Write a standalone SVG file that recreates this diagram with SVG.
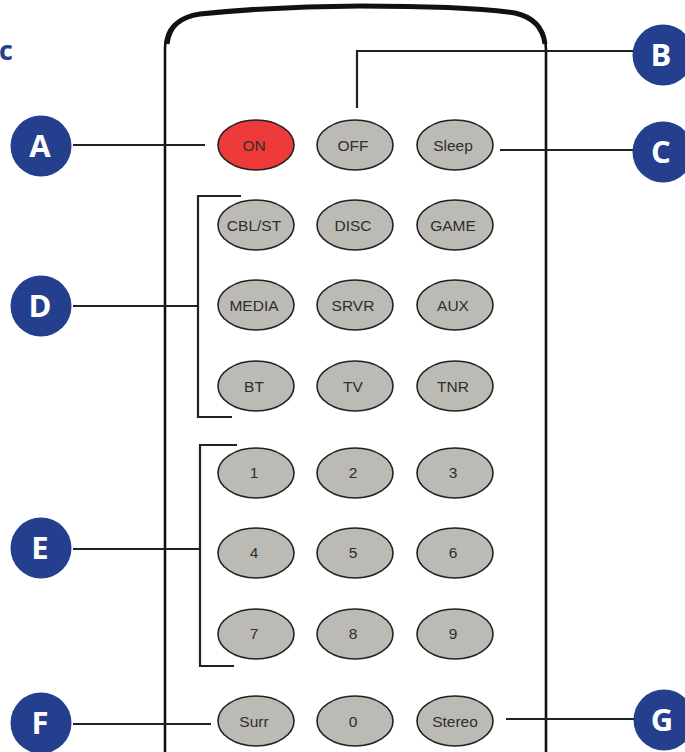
<svg xmlns="http://www.w3.org/2000/svg" width="685" height="752" viewBox="0 0 685 752">
<style>
.btn{fill:#bcbab5;stroke:#222;stroke-width:1.6}
.on{fill:#ef3a3a;stroke:#222;stroke-width:1.6}
.bt{font-family:"Liberation Sans",Arial,sans-serif;font-size:15.5px;fill:#2e2e2e;text-anchor:middle}
.callout{fill:#243f8e}
.cl{font-family:"Open Sans","Noto Sans",sans-serif;font-weight:bold;font-size:31px;fill:#fff;text-anchor:middle}
.ln{stroke:#222;stroke-width:2.2;fill:none}
</style>
<rect width="685" height="752" fill="#fff"/>
<text x="-1" y="60" font-family="'Open Sans','Noto Sans',sans-serif" font-weight="bold" font-size="27" fill="#243f8e">c</text>
<g id="remote">
<path d="M165,752 V48 C165,28 176,17 200,14 C260,8 310,6 360,6 C420,6 480,8 515,13 C535,17 546,30 546,50 V752" fill="none" stroke="#111" stroke-width="2.6"/>
<path d="M167,44 C169,26 180,17 200,14 C260,8 310,6 360,6 C420,6 480,8 515,13 C533,17 543,28 545,44" fill="none" stroke="#111" stroke-width="5"/>
</g>
<g id="connectors">
<path class="ln" d="M73,145 H205"/>
<path class="ln" d="M357,108 V51 H633"/>
<path class="ln" d="M500,150 H633"/>
<path class="ln" d="M73,306 H198 M241,196 H198 V417 H232"/>
<path class="ln" d="M73,549 H200 M237,445 H200 V666 H234"/>
<path class="ln" d="M73,724 H211"/>
<path class="ln" d="M506,719 H634"/>
</g>
<g id="btn-on"><ellipse class="on" cx="256" cy="145" rx="38" ry="25"/><text class="bt" x="254" y="150.5">ON</text></g>
<g id="btn-off"><ellipse class="btn" cx="355" cy="145" rx="38" ry="25"/><text class="bt" x="353" y="150.5">OFF</text></g>
<g id="btn-sleep"><ellipse class="btn" cx="455" cy="145" rx="38" ry="25"/><text class="bt" x="453" y="150.5">Sleep</text></g>
<g id="btn-cblst"><ellipse class="btn" cx="256" cy="225" rx="38" ry="25"/><text class="bt" x="254" y="230.5">CBL/ST</text></g>
<g id="btn-disc"><ellipse class="btn" cx="355" cy="225" rx="38" ry="25"/><text class="bt" x="353" y="230.5">DISC</text></g>
<g id="btn-game"><ellipse class="btn" cx="455" cy="225" rx="38" ry="25"/><text class="bt" x="453" y="230.5">GAME</text></g>
<g id="btn-media"><ellipse class="btn" cx="256" cy="305" rx="38" ry="25"/><text class="bt" x="254" y="310.5">MEDIA</text></g>
<g id="btn-srvr"><ellipse class="btn" cx="355" cy="305" rx="38" ry="25"/><text class="bt" x="353" y="310.5">SRVR</text></g>
<g id="btn-aux"><ellipse class="btn" cx="455" cy="305" rx="38" ry="25"/><text class="bt" x="453" y="310.5">AUX</text></g>
<g id="btn-bt"><ellipse class="btn" cx="256" cy="386" rx="38" ry="25"/><text class="bt" x="254" y="391.5">BT</text></g>
<g id="btn-tv"><ellipse class="btn" cx="355" cy="386" rx="38" ry="25"/><text class="bt" x="353" y="391.5">TV</text></g>
<g id="btn-tnr"><ellipse class="btn" cx="455" cy="386" rx="38" ry="25"/><text class="bt" x="453" y="391.5">TNR</text></g>
<g id="btn-1"><ellipse class="btn" cx="256" cy="473" rx="38" ry="25"/><text class="bt" x="254" y="478">1</text></g>
<g id="btn-2"><ellipse class="btn" cx="355" cy="473" rx="38" ry="25"/><text class="bt" x="353" y="478">2</text></g>
<g id="btn-3"><ellipse class="btn" cx="455" cy="473" rx="38" ry="25"/><text class="bt" x="453" y="478">3</text></g>
<g id="btn-4"><ellipse class="btn" cx="256" cy="553" rx="38" ry="25"/><text class="bt" x="254" y="558">4</text></g>
<g id="btn-5"><ellipse class="btn" cx="355" cy="553" rx="38" ry="25"/><text class="bt" x="353" y="558">5</text></g>
<g id="btn-6"><ellipse class="btn" cx="455" cy="553" rx="38" ry="25"/><text class="bt" x="453" y="558">6</text></g>
<g id="btn-7"><ellipse class="btn" cx="256" cy="634" rx="38" ry="25"/><text class="bt" x="254" y="639">7</text></g>
<g id="btn-8"><ellipse class="btn" cx="355" cy="634" rx="38" ry="25"/><text class="bt" x="353" y="639">8</text></g>
<g id="btn-9"><ellipse class="btn" cx="455" cy="634" rx="38" ry="25"/><text class="bt" x="453" y="639">9</text></g>
<g id="btn-surr"><ellipse class="btn" cx="256" cy="721" rx="38" ry="25"/><text class="bt" x="254" y="726.5">Surr</text></g>
<g id="btn-0"><ellipse class="btn" cx="355" cy="721" rx="38" ry="25"/><text class="bt" x="353" y="726.5">0</text></g>
<g id="btn-stereo"><ellipse class="btn" cx="455" cy="721" rx="38" ry="25"/><text class="bt" x="455" y="726.5">Stereo</text></g>
<g id="callout-a"><circle class="callout" cx="41" cy="146" r="30.5"/><text class="cl" x="40" y="157">A</text></g>
<g id="callout-b"><circle class="callout" cx="663" cy="55" r="30.5"/><text class="cl" x="661" y="66">B</text></g>
<g id="callout-c"><circle class="callout" cx="663" cy="152" r="30.5"/><text class="cl" x="661" y="163">C</text></g>
<g id="callout-d"><circle class="callout" cx="41" cy="306" r="30.5"/><text class="cl" x="40" y="317">D</text></g>
<g id="callout-e"><circle class="callout" cx="41" cy="548" r="30.5"/><text class="cl" x="40" y="559">E</text></g>
<g id="callout-f"><circle class="callout" cx="41" cy="723" r="30.5"/><text class="cl" x="40" y="734">F</text></g>
<g id="callout-g"><circle class="callout" cx="664" cy="720" r="30.5"/><text class="cl" x="662" y="731">G</text></g>
</svg>
